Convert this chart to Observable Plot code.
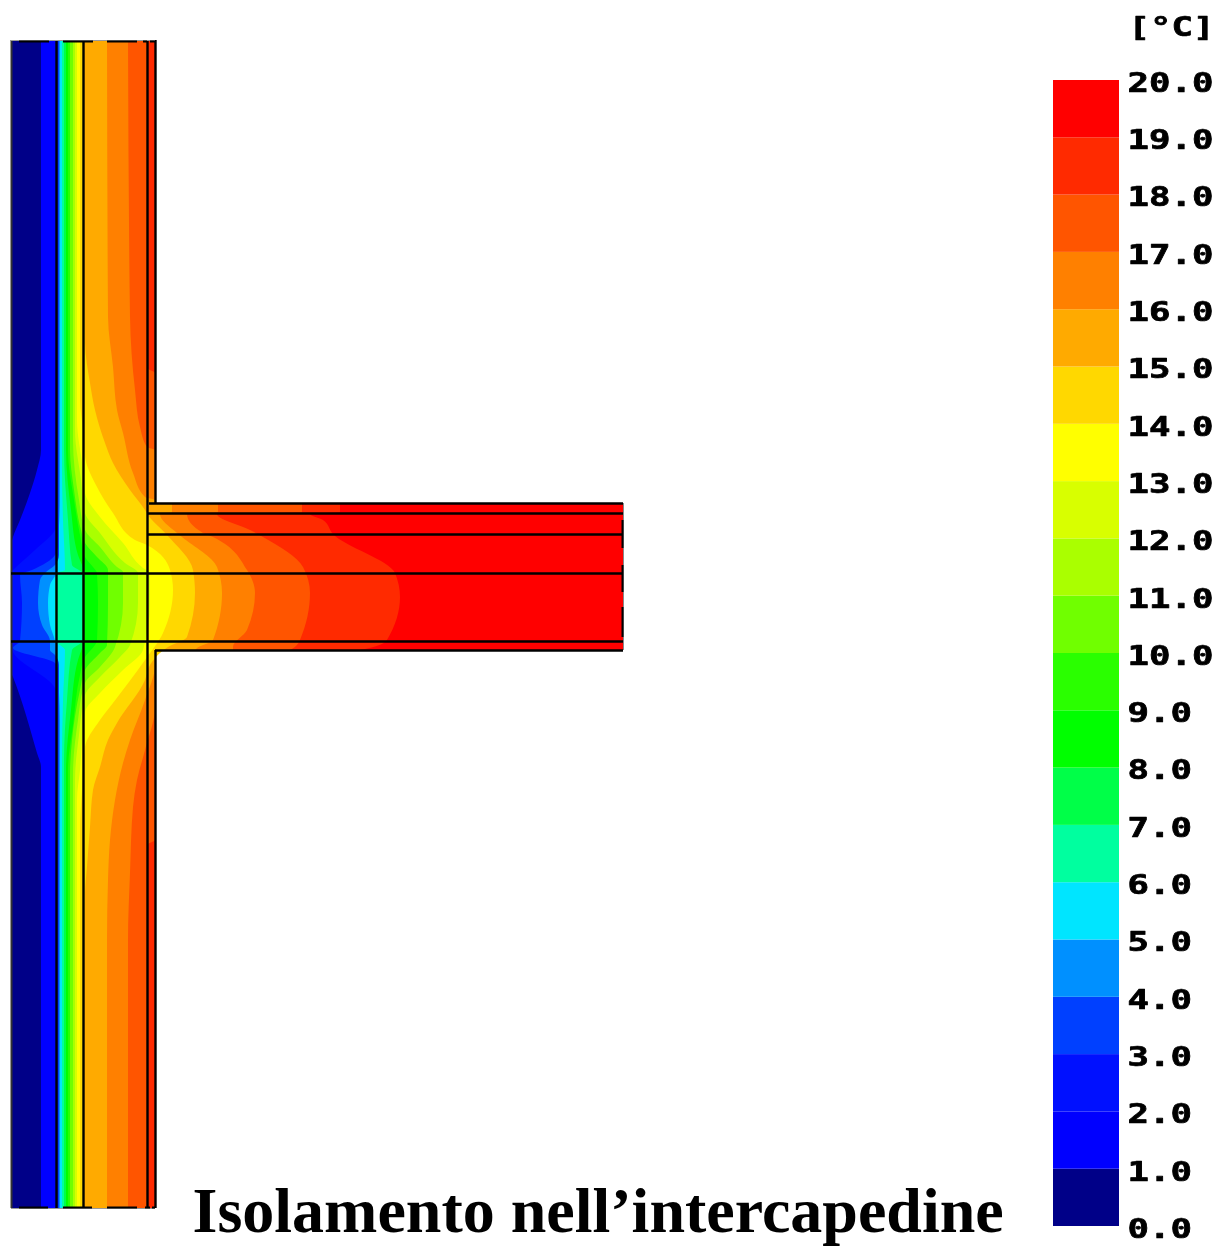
<!DOCTYPE html>
<html><head><meta charset="utf-8">
<script src="https://cdn.jsdelivr.net/npm/d3@7"></script>
<script src="https://cdn.jsdelivr.net/npm/@observablehq/plot@0.6"></script>
<style>
html,body{margin:0;padding:0;background:#fff}
#wrap{display:flex;width:1227px;height:1247px;overflow:hidden}
svg{display:block;background:#fff}
</style></head><body><div id="wrap"></div>
<script>
// temperature classes, 0-20 °C
const bandColors=["#000088","#0000ff","#0010ff","#0040ff","#0090ff","#00e5ff","#00ff9f","#00ff48","#00ff00","#2aff00","#70ff00","#aaff00","#d8ff00","#ffff00","#ffd800","#ffaa00","#ff8000","#ff5500","#ff2a00","#ff0000"];
const tickValues=d3.range(0,21);
const title="Isolamento nell’intercapedine";
const unit="[°C]";

// outline of the section [y, x]
const outline=[[40,155],[503,155],[503,623],[650,623],[650,155],[1208,155]];
// isotherms, each as [y, x]
const iso1=[[40,41],[450,41],[470,37],[493,30],[520,20],[537,13],[545,11],[672,11],[677,13],[753,37],[767,41],[1208,41]];
const iso2=[[40,57],[525,57],[530,55],[550,35],[570,13],[572,11],[645,11],[652,13],[688,55],[693,57],[1208,57]];
const iso3=[[40,58],[545,58],[555,55],[570,32],[575,20],[603,22],[641,20],[648,13],[663,55],[670,58],[1208,58]];
const iso4=[[40,59],[555,59],[565,55],[572,46],[580,40],[603,38],[625,42],[641,50],[650,50],[655,55],[665,59],[1208,59]];
const iso5=[[40,60],[500,60],[555,57],[573,56],[585,50],[603,48],[625,50],[641,55],[665,57],[720,60],[1208,60]];
const iso6=[[40,62],[470,62],[520,63],[570,65],[573,56],[590,55],[630,55],[641,56],[650,65],[700,63],[760,62],[1208,62]];
const iso7=[[40,64],[450,64],[520,68],[565,72],[573,82],[641,82],[650,72],[700,67],[760,64],[1208,64]];
const iso8=[[40,66],[450,66],[510,71],[555,78],[568,83],[573,84],[641,84],[645,83],[660,78],[710,71],[770,66],[1208,66]];
const iso9=[[40,68],[450,68],[500,74],[540,81],[557,85],[567,93],[573,97],[603,98],[641,97],[645,95],[657,85],[675,80],[725,73],[770,68],[1208,68]];
const iso10=[[40,70],[450,70],[490,74],[530,81],[543,85],[557,97],[570,108],[603,108],[645,107],[653,100],[670,85],[690,80],[740,72],[775,70],[1208,70]];
const iso11=[[40,73],[440,73],[500,79],[530,85],[547,100],[567,117],[572,123],[603,123],[647,115],[667,100],[683,85],[720,78],[775,73],[1208,73]];
const iso12=[[40,75],[430,75],[480,81],[513,85],[533,100],[563,125],[573,138],[603,138],[645,130],[657,120],[677,100],[695,85],[735,79],[780,75],[1208,75]];
const iso13=[[40,77],[420,77],[470,83],[493,85],[517,100],[543,123],[568,143],[573,150],[603,150],[650,143],[670,123],[693,100],[712,85],[770,80],[800,77],[1208,77]];
const iso14=[[40,80],[400,80],[430,83],[457,85],[487,97],[513,113],[540,135],[545,147],[570,170],[590,173],[633,163],[660,145],[703,113],[720,100],[747,85],[790,82],[830,80],[1208,80]];
const iso15=[[40,83],[343,85],[383,90],[410,95],[443,105],[463,113],[490,130],[510,145],[515,148],[535,167],[570,193],[593,195],[637,187],[647,168],[665,150],[680,145],[723,117],[740,108],[767,100],[790,93],[827,90],[867,87],[893,85],[1000,84],[1208,83]];
const iso16=[[40,107],[317,108],[367,113],[410,117],[433,123],[473,133],[497,145],[500,155],[503,155],[503,172],[512,172],[514,160],[533,177],[537,182],[567,217],[593,222],[640,213],[648,197],[650,195],[650,155],[665,155],[700,145],[740,130],[763,123],[800,115],[840,110],[880,108],[940,107],[1208,107]];
const iso17=[[40,128],[317,130],[390,135],[427,140],[447,147],[450,155],[503,155],[503,218],[512,218],[514,187],[533,203],[537,213],[570,247],[593,255],[630,247],[647,233],[650,233],[650,155],[707,155],[750,145],[780,137],[807,133],[873,130],[940,128],[1208,128]];
const iso18=[[40,147],[368,147],[373,155],[503,155],[503,302],[512,302],[514,217],[530,250],[537,263],[567,303],[593,310],[640,300],[650,290],[650,155],[840,155],[845,147],[1208,147]];
const iso19=[[40,155],[503,155],[503,340],[512,340],[514,310],[520,323],[534,333],[573,395],[597,400],[640,387],[650,360],[650,155],[1208,155]];
const isotherms=[outline,iso19,iso18,iso17,iso16,iso15,iso14,iso13,iso12,iso11,iso10,iso9,iso8,iso7,iso6,iso5,iso4,iso3,iso2,iso1];

// section boundaries between layers
const verticalLines=[[56,40,1208],[83,40,1208],[147,40,1208],[155,40,503],[155,650,1208]];
const horizontalLines=[[503,149,623],[513,147,623],[534,147,623],[573,11,623],[641,11,623],[650,155,623]];
const edgeTop=[[19,49],[63,93],[107,137],[143,147],[150,155]];
const edgeBottom=[[19,48],[63,92],[107,137],[145,150],[152,155]];
const edgeRight=[[520,548],[565,592],[607,637]];
const sectionLeft=11, sectionRight=623, sectionTop=40, sectionBottom=1208;

const colorOpts={type:"threshold",domain:d3.range(1,20),range:bandColors};
const areaRows=isotherms.flatMap((rows,i)=>rows.map(([y,x])=>({y,x,left:sectionLeft,series:i,t:19.5-i})));
const soft="blur(0.6px)";

const field=Plot.plot({
  width:1040,height:1247,margin:0,
  x:{domain:[0,1040],range:[0,1040],axis:null},
  y:{domain:[0,1247],range:[0,1247],axis:null},
  color:colorOpts,
  marks:[
    Plot.areaX(areaRows,{x1:"left",x2:"x",y:"y",z:"series",fill:"t",curve:"monotone-y",imageFilter:soft}),
    Plot.ruleX([sectionLeft],{y1:sectionTop,y2:sectionBottom,stroke:"#333",strokeWidth:2,imageFilter:soft}),
    Plot.ruleX(verticalLines,{x:d=>d[0],y1:d=>d[1],y2:d=>d[2],stroke:"#000",strokeWidth:2.4,imageFilter:soft}),
    Plot.ruleY(horizontalLines,{y:d=>d[0],x1:d=>d[1],x2:d=>d[2],stroke:"#000",strokeWidth:2.4,imageFilter:soft}),
    Plot.ruleY([sectionTop],{x1:sectionLeft,x2:155,stroke:"#999",strokeWidth:1,imageFilter:soft}),
    Plot.ruleY([sectionBottom],{x1:sectionLeft,x2:155,stroke:"#999",strokeWidth:1,imageFilter:soft}),
    Plot.ruleY(edgeTop,{y:()=>sectionTop+1,x1:d=>d[0],x2:d=>d[1],stroke:"#000",strokeWidth:2,imageFilter:soft}),
    Plot.ruleY(edgeBottom,{y:()=>sectionBottom-1,x1:d=>d[0],x2:d=>d[1],stroke:"#000",strokeWidth:2,imageFilter:soft}),
    Plot.ruleX([sectionRight],{y1:503,y2:650,stroke:"#888",strokeWidth:1,imageFilter:soft}),
    Plot.ruleX(edgeRight,{x:()=>sectionRight-1,y1:d=>d[0],y2:d=>d[1],stroke:"#000",strokeWidth:2,imageFilter:soft}),
    Plot.text([title],{x:()=>192,y:()=>1211,text:d=>d,textAnchor:"start",lineAnchor:"middle",fontFamily:"Liberation Serif",fontWeight:"bold",fontSize:64,fill:"#000"})
  ]
});

const labelFont={textAnchor:"start",fontFamily:"DejaVu Sans Mono",fontWeight:"bold",fontSize:26,fill:"#000",stroke:"#000",strokeWidth:0.7,imageFilter:"blur(0.4px)"};
const legend=Plot.plot({
  width:187,height:1247,marginLeft:0,marginRight:0,marginTop:80,marginBottom:21,
  x:{domain:[1040,1227],range:[0,187],axis:null},
  y:{domain:[0,20],axis:null},
  color:colorOpts,
  marks:[
    Plot.rect(bandColors,{x1:()=>1053,x2:()=>1119,y1:(d,i)=>i,y2:(d,i)=>i+1,fill:(d,i)=>i+0.5,imageFilter:soft}),
    Plot.text(tickValues,{x:()=>1127,y:d=>d,dy:3,text:d=>d.toFixed(1),...labelFont}),
    Plot.text([unit],{x:()=>1128,y:()=>20.92,text:d=>d,...labelFont})
  ]
});
// stretch the bitmap-like legend digits to their wide monospaced cell
d3.select(legend).selectAll("text").each(function(){
  const s=this.textContent.trim();
  if(s) d3.select(this).attr("textLength",s.length*21.5).attr("lengthAdjust","spacingAndGlyphs");
});
d3.select(legend).selectAll("text tspan").attr("textLength",null);
document.getElementById("wrap").append(field,legend);
</script></body></html>
